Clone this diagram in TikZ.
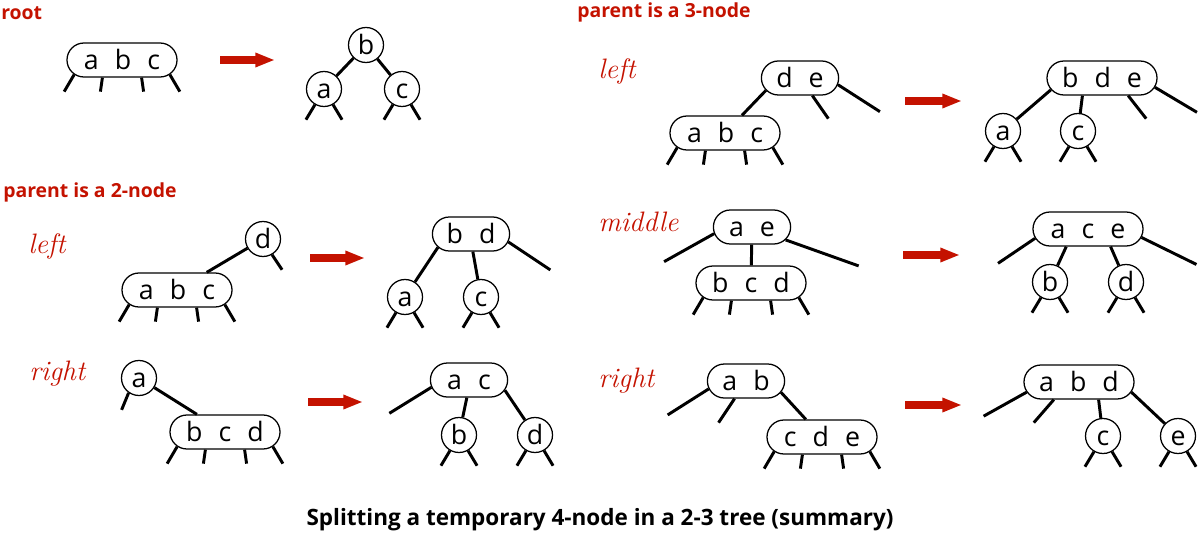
\documentclass[tikz,border=0pt]{standalone}
\usepackage{fontspec}
\usepackage{xcolor}
\usetikzlibrary{arrows.meta, shapes.misc}
\newfontfamily\keyfont{Open Sans}
\definecolor{splitred}{RGB}{196,18,0}
\newcommand{\kgap}{\hspace{0.6em}}
\tikzset{
    key1/.style={draw, circle, line width=0.9pt, minimum size=0.875cm, inner sep=0pt,
        text height=13.5pt, text depth=0pt, font=\keyfont\fontsize{19}{19}\selectfont},
    key2/.style={draw, rounded rectangle, line width=0.9pt, minimum width=1.93cm, minimum height=0.85cm,
        inner sep=0pt, text height=13.5pt, text depth=0pt, font=\keyfont\fontsize{19}{19}\selectfont},
    key3/.style={key2, minimum width=2.75cm},
    link/.style={line width=2.1pt},
    split/.style={-{Triangle[length=14pt, width=9.5pt]}, line width=5pt, splitred},
    case/.style={font=\fontsize{20}{20}\selectfont\itshape, text=splitred, inner sep=0pt},
    heading/.style={font=\keyfont\bfseries\fontsize{13.8}{13.8}\selectfont, text=splitred, inner sep=0pt},
}
\begin{document}
\begin{tikzpicture}[x=0.025cm, y=-0.025cm]
    \useasboundingbox (0,0) rectangle (1200,537);

    \node[heading, anchor=base west] (hroot) at (1,20) {root};
    \node[heading, anchor=base west] (htwo) at (3,198) {parent is a 2-node};
    \node[heading, anchor=base west] (hthree) at (577,18) {parent is a 3-node};

    % root
    \node[key3] (rabc) at (122,60) {a\kgap b\kgap c};
    \draw[link] (rabc.197) -- ++(-10,17) (rabc.222) -- ++(-2,14) (rabc.318) -- ++(2,14) (rabc.343) -- ++(10,17);

    \coordinate (go1a) at (220,60);
    \coordinate (go1b) at (275,60);
    \draw[split] (go1a) -- (go1b);

    \node[key1] (rb) at (366,45) {b};
    \node[key1] (ra) at (324,89) {a};
    \node[key1] (rc) at (402,89) {c};
    \draw[link] (rb) -- (ra) (rb) -- (rc);
    \draw[link] (ra.240) -- ++(-9,15) (ra.300) -- ++(9,15) (rc.240) -- ++(-9,15) (rc.300) -- ++(9,15);

    % parent is a 2-node, left
    \node[case, anchor=base west] (clt) at (28,253) {left};
    \node[key1] (tld) at (263,239) {d};
    \node[key3] (tlabc) at (177,290) {a\kgap b\kgap c};
    \draw[link] (tld) -- (tlabc) (tld.300) -- ++(10,15);
    \draw[link] (tlabc.197) -- ++(-10,17) (tlabc.222) -- ++(-2,14) (tlabc.318) -- ++(2,14) (tlabc.343) -- ++(10,17);

    \coordinate (go2a) at (310,258);
    \coordinate (go2b) at (365,258);
    \draw[split] (go2a) -- (go2b);

    \node[key2] (tlbd) at (471,234) {b\kgap d};
    \node[key1] (tla) at (405,297) {a};
    \node[key1] (tlc) at (481,297) {c};
    \draw[link] (tlbd.202) -- (tla) (tlbd.276) -- (tlc) (tlbd.348) -- ++(42,28);
    \draw[link] (tla.240) -- ++(-9,15) (tla.300) -- ++(9,15) (tlc.240) -- ++(-9,15) (tlc.300) -- ++(9,15);

    % parent is a 2-node, right
    \node[case, anchor=base west] (crt) at (29,380) {right};
    \node[key1] (tra) at (139,378) {a};
    \node[key3] (trbcd) at (225,432) {b\kgap c\kgap d};
    \draw[link] (tra) -- (trbcd) (tra.235) -- ++(-7,17);
    \draw[link] (trbcd.197) -- ++(-10,17) (trbcd.222) -- ++(-2,14) (trbcd.318) -- ++(2,14) (trbcd.343) -- ++(10,17);

    \coordinate (go3a) at (308,402);
    \coordinate (go3b) at (363,402);
    \draw[split] (go3a) -- (go3b);

    \node[key2] (trac) at (469,380) {a\kgap c};
    \node[key1] (trb) at (459,435) {b};
    \node[key1] (trd) at (535,435) {d};
    \draw[link] (trac.191) -- ++(-42,26) (trac.263) -- (trb) (trac.344) -- (trd);
    \draw[link] (trb.240) -- ++(-9,15) (trb.300) -- ++(9,15) (trd.240) -- ++(-9,15) (trd.300) -- ++(9,15);

    % parent is a 3-node, left
    \node[case, anchor=base west] (chl) at (598,79) {left};
    \node[key2] (hlde) at (800,78) {d\kgap e};
    \node[key3] (hlabc) at (725,133) {a\kgap b\kgap c};
    \draw[link] (hlde.200) -- (hlabc) (hlde.305) -- ++(16,23) (hlde.350) -- ++(42,27);
    \draw[link] (hlabc.197) -- ++(-10,17) (hlabc.222) -- ++(-2,14) (hlabc.318) -- ++(2,14) (hlabc.343) -- ++(10,17);

    \coordinate (go4a) at (905,101);
    \coordinate (go4b) at (962,101);
    \draw[split] (go4a) -- (go4b);

    \node[key3] (hlbde) at (1102,78) {b\kgap d\kgap e};
    \node[key1] (hla) at (1003,131) {a};
    \node[key1] (hlc) at (1078,131) {c};
    \draw[link] (hlbde.193) -- (hla) (hlbde.222) -- (hlc) (hlbde.326) -- ++(18,23) (hlbde.350) -- ++(42,25);
    \draw[link] (hla.240) -- ++(-9,15) (hla.300) -- ++(9,15) (hlc.240) -- ++(-9,15) (hlc.300) -- ++(9,15);

    % parent is a 3-node, middle
    \node[case, anchor=base west] (chm) at (598,232) {middle};
    \node[key2] (hmae) at (752,227) {a\kgap e};
    \node[key3] (hmbcd) at (751,283) {b\kgap c\kgap d};
    \draw[link] (hmae) -- (hmbcd) (hmae.190) -- ++(-50,28) (hmae.339) -- ++(73,26);
    \draw[link] (hmbcd.197) -- ++(-10,17) (hmbcd.222) -- ++(-2,14) (hmbcd.318) -- ++(2,14) (hmbcd.343) -- ++(10,17);

    \coordinate (go5a) at (903,255);
    \coordinate (go5b) at (960,255);
    \draw[split] (go5a) -- (go5b);

    \node[key3] (hmace) at (1088,229) {a\kgap c\kgap e};
    \node[key1] (hmb) at (1050,282) {b};
    \node[key1] (hmd) at (1126,282) {d};
    \draw[link] (hmace.190) -- ++(-37,25) (hmace.219) -- (hmb) (hmace.322) -- (hmd) (hmace.351) -- ++(55,27);
    \draw[link] (hmb.240) -- ++(-9,15) (hmb.300) -- ++(9,15) (hmd.240) -- ++(-9,15) (hmd.300) -- ++(9,15);

    % parent is a 3-node, right
    \node[case, anchor=base west] (chr) at (598,387) {right};
    \node[key2] (hrab) at (746,381) {a\kgap b};
    \node[key3] (hrcde) at (822,437) {c\kgap d\kgap e};
    \draw[link] (hrab.192) -- ++(-41,26) (hrab.237) -- ++(-16,24) (hrab.342) -- (hrcde);
    \draw[link] (hrcde.197) -- ++(-10,17) (hrcde.222) -- ++(-2,14) (hrcde.318) -- ++(2,14) (hrcde.343) -- ++(10,17);

    \coordinate (go6a) at (905,405);
    \coordinate (go6b) at (962,405);
    \draw[split] (go6a) -- (go6b);

    \node[key3] (hrabd) at (1079,382) {a\kgap b\kgap d};
    \node[key1] (hrc) at (1103,436) {c};
    \node[key1] (hre) at (1178,436) {e};
    \draw[link] (hrabd.191) -- ++(-43,24) (hrabd.215) -- ++(-20,23) (hrabd.318) -- (hrc) (hrabd.349) -- (hre);
    \draw[link] (hrc.240) -- ++(-9,15) (hrc.300) -- ++(9,15) (hre.240) -- ++(-9,15) (hre.300) -- ++(9,15);

    \node[font=\keyfont\bfseries\fontsize{16}{16}\selectfont] (cap) at (600,520) {Splitting a temporary 4-node in a 2-3 tree (summary)};
\end{tikzpicture}
\end{document}
